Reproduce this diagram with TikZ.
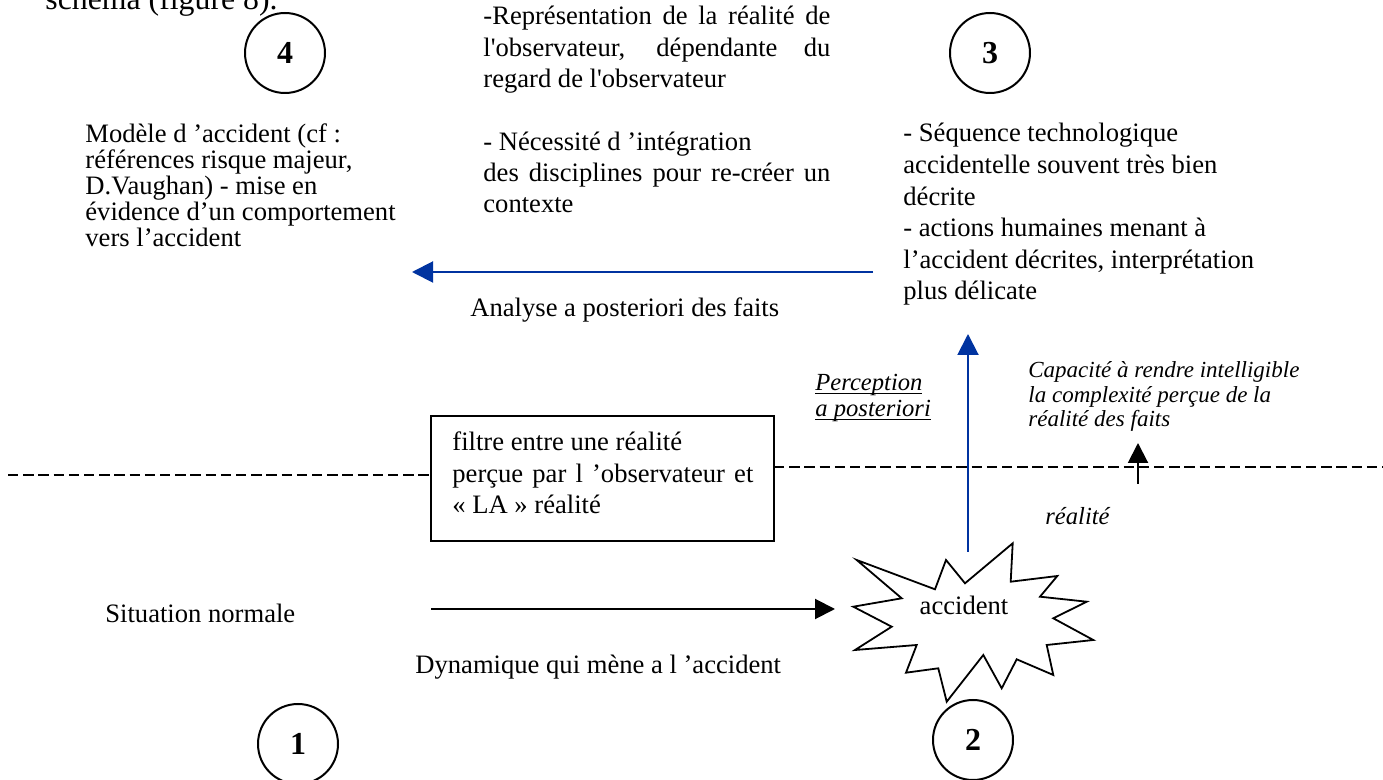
\documentclass[tikz,border=0pt]{standalone}
\usepackage{fontspec}
\setmainfont{Liberation Serif}[Ligatures=TeXOff]
\usetikzlibrary{arrows.meta}
\definecolor{arrowblue}{RGB}{0,51,160}
\newcommand\bodyfont{\fontsize{13.3}{15.75}\selectfont}
\newcommand\ulword[1]{\leavevmode\setbox0\hbox{#1}\rlap{\rule[-1.4pt]{\wd0}{0.5pt}}\box0}
\newcommand\fullline[1]{\makebox[\linewidth][s]{#1}}
\newcommand\stagenum[1]{\raisebox{-1.2pt}{#1}}
\tikzset{
  txt/.style={anchor=base west, inner sep=0pt, font=\bodyfont},
  numcircle/.style={circle, draw, line width=1pt, minimum size=40pt, inner sep=0pt,
    font=\fontsize{16}{16}\selectfont\bfseries},
  bluearrow/.style={draw=arrowblue, line width=1pt, -{Triangle[length=10.5pt,width=10.5pt]}},
  blackarrow/.style={line width=1pt, -{Triangle[length=10pt,width=10pt]}},
  divider/.style={line width=1pt, dash pattern=on 5.2pt off 2.4pt},
}
\begin{document}
\begin{tikzpicture}[x=0.5pt,y=-0.5pt]
\fill[white] (0,0) rectangle (1383,780);
\useasboundingbox (0,0) rectangle (1383,780);
\clip (0,0) rectangle (1383,780);

% running text above the figure
\node[anchor=base west, inner sep=0pt, font=\fontsize{15.9}{16}\selectfont] (head) at (45,10) {schéma (figure 8).};

% numbered stages
\node[numcircle] (n4) at (285,53) {\stagenum{4}};
\node[numcircle] (n3) at (990,53) {\stagenum{3}};
\node[numcircle] (n1) at (298,744) {\stagenum{1}};
\node[numcircle] (n2) at (973,740) {\stagenum{2}};

% stage 4: accident model
\node[txt] (model) at (85,143) {\parbox[t]{260pt}{\raggedright\fontsize{13.3}{13}\selectfont
Modèle d ’accident (cf :\\
références risque majeur,\\
D.Vaughan) - mise en\\
évidence d’un comportement\\
vers l’accident}};

% observer's representation
\node[txt] (repr) at (483,25) {\parbox[t]{173.5pt}{\fontsize{13.3}{15.65}\selectfont
\fullline{-Représentation de la réalité de}\\
\fullline{l'observateur, dépendante du}\\
regard de l'observateur\\[15.65pt]
- Nécessité d ’intégration\\
\fullline{des disciplines pour re-créer un}\\
contexte}};

% stage 3: description of the facts
\node[txt] (facts) at (903,142) {\parbox[t]{230pt}{\raggedright\fontsize{13.3}{15.8}\selectfont
- Séquence technologique\\
accidentelle souvent très bien\\
décrite\\
- actions humaines menant à\\
l’accident décrites, interprétation\\
plus délicate}};

\node[txt] (analyse) at (470,317) {Analyse a posteriori des faits};

\node[txt, font=\fontsize{12.3}{13}\selectfont\itshape] (percep) at (815,391) {\parbox[t]{80pt}{\raggedright\fontsize{12.3}{13}\selectfont\itshape
\ulword{Perception}\\
\ulword{a posteriori}}};

\node[txt, font=\fontsize{11.5}{12.25}\selectfont\itshape] (capa) at (1028,378) {\parbox[t]{170pt}{\raggedright\fontsize{11.5}{12.25}\selectfont\itshape
Capacité à rendre intelligible\\
la complexité perçue de la\\
réalité des faits}};

\node[txt, font=\fontsize{12.3}{13}\selectfont\itshape] (real) at (1045,525) {réalité};

% boundary between perceived reality and reality
\draw[divider] (8,475) -- (431,475);
\draw[divider] (774,467) -- (1383,467);

% filter box
\node[draw, line width=0.9pt, minimum width=171.5pt, minimum height=62.5pt, inner sep=0pt]
  (filter) at (602.5,478.5) {};
\node[txt] (filtertext) at (452,451) {\parbox[t]{150.5pt}{\bodyfont
filtre entre une réalité\\
\fullline{perçue par l ’observateur et}\\
« LA » réalité}};

% accident starburst
\draw[line width=0.9pt, line join=miter]
  (856.7,560) -- (935,589.3) -- (946,560) -- (965,583.3) -- (1012.7,543.3)
  -- (1010.7,581.7) -- (1057.3,576) -- (1040,596.7) -- (1086.7,601.7)
  -- (1053.3,618.3) -- (1093.3,640) -- (1046.7,645) -- (1053.3,675)
  -- (1016.7,659.3) -- (1001.7,688.3) -- (983.3,655) -- (946.7,701.7)
  -- (938.3,668.3) -- (906,672.7) -- (916.7,645) -- (855,650)
  -- (891.7,626.7) -- (853.3,606.7) -- (901.7,598.3) -- cycle;
\node[anchor=base, inner sep=0pt, font=\bodyfont] (accident) at (964,615) {accident};

\node[txt] (normal) at (105,623) {Situation normale};
\node[txt] (dyn) at (415,674) {Dynamique qui mène a l ’accident};

% connectors
\coordinate (dynstart) at (431,609);
\coordinate (dynend) at (835,609);
\draw[blackarrow] (dynstart) -- (dynend);

\coordinate (burstTop) at (968,552);
\coordinate (percTop) at (968,334);
\draw[bluearrow] (burstTop) -- (percTop);

\coordinate (anaStart) at (873,272);
\coordinate (anaEnd) at (412,272);
\draw[bluearrow] (anaStart) -- (anaEnd);

\coordinate (capStart) at (1138,484);
\coordinate (capEnd) at (1138,443);
\draw[blackarrow] (capStart) -- (capEnd);
\end{tikzpicture}
\end{document}
